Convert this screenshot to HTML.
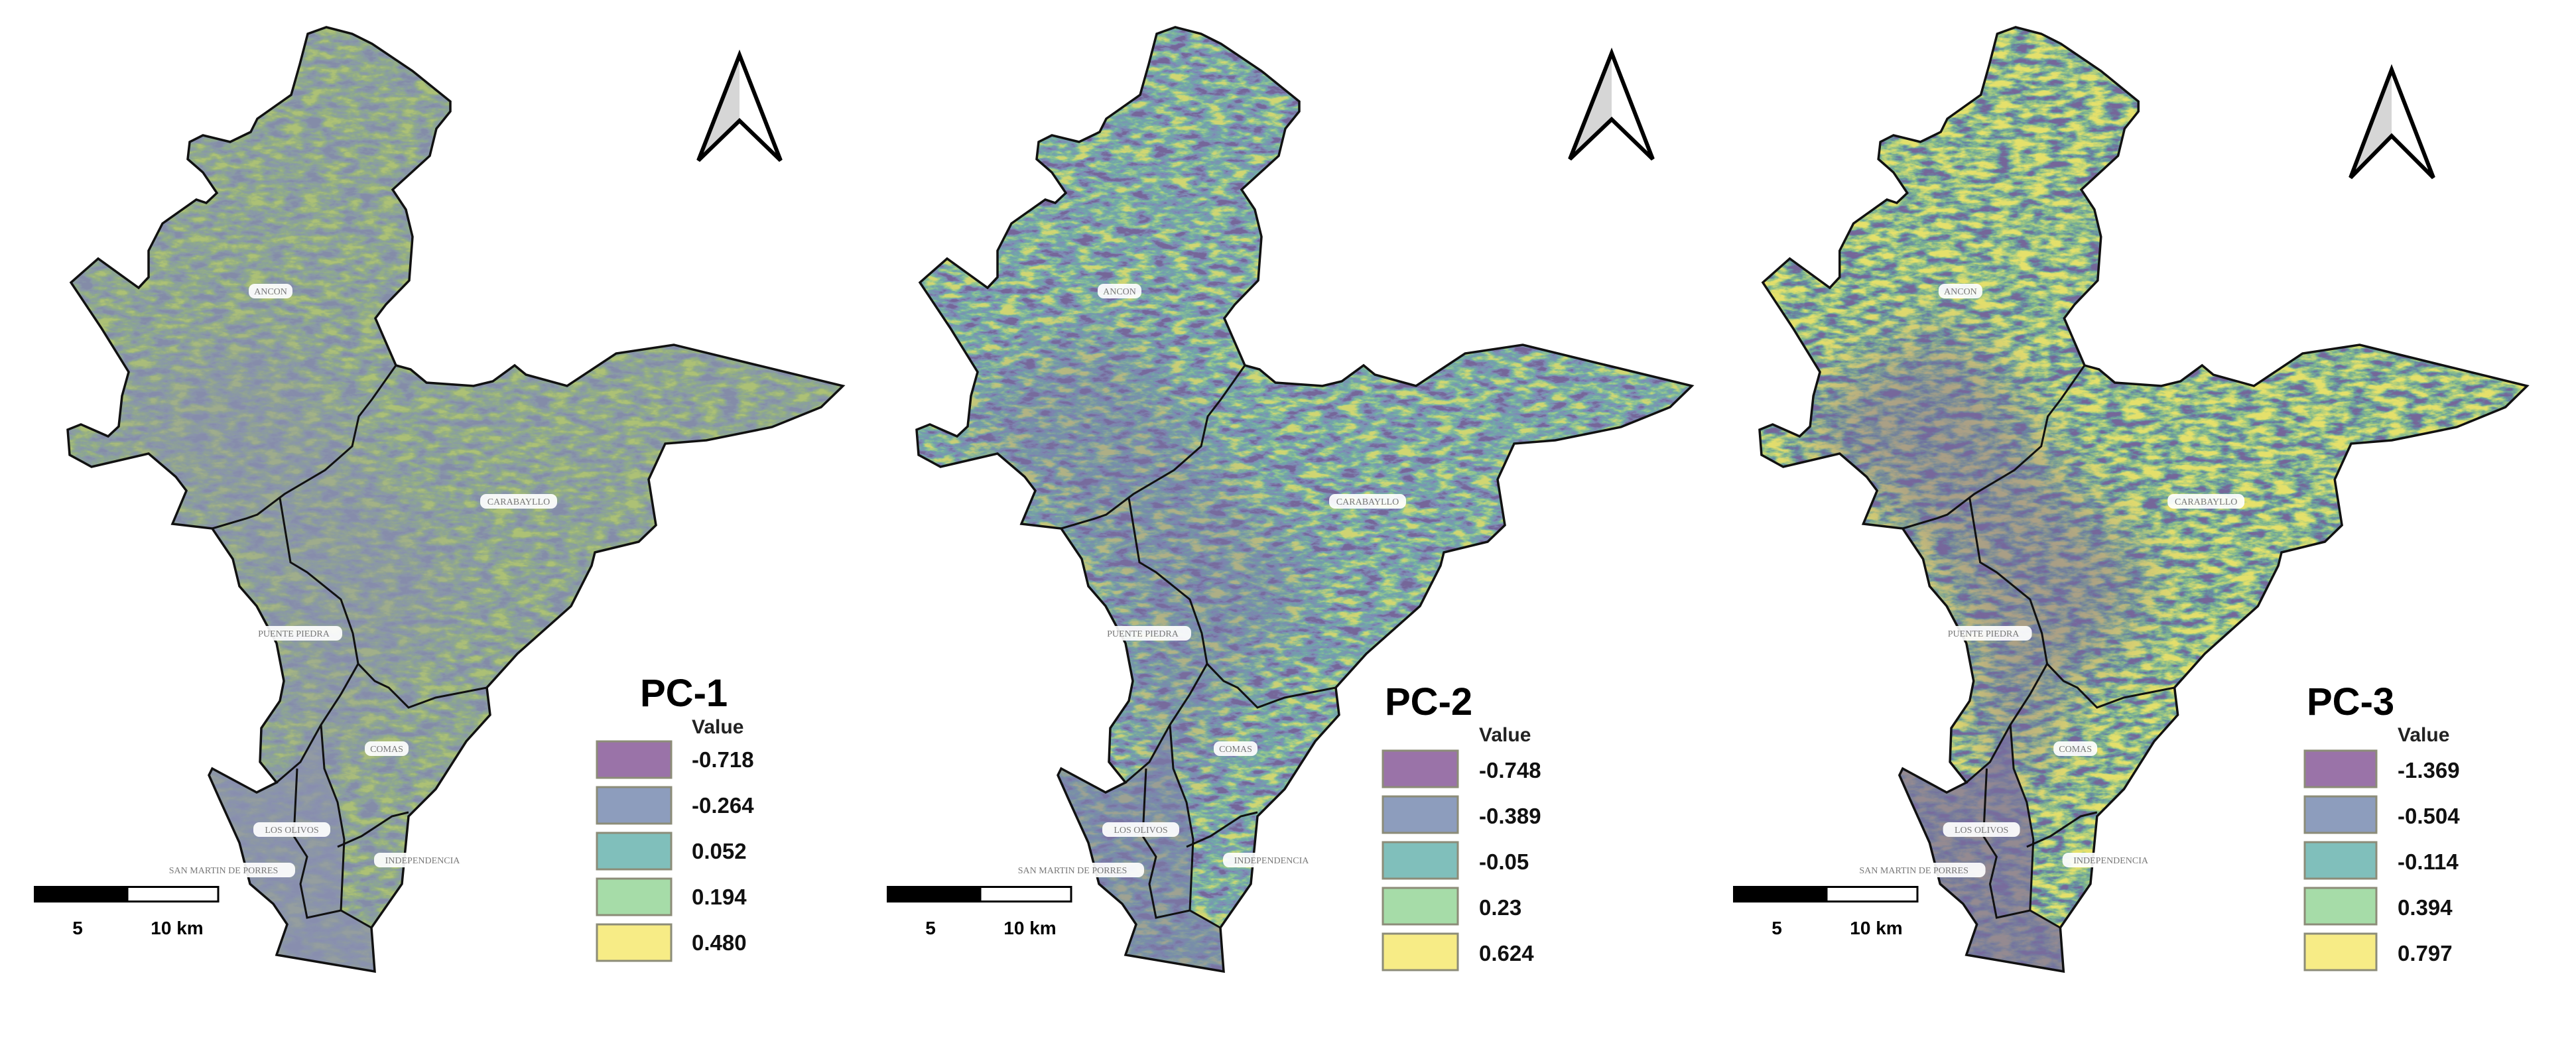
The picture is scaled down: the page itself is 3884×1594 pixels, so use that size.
<!DOCTYPE html>
<html><head><meta charset="utf-8">
<style>
html,body{margin:0;padding:0;background:#fff;}
svg{display:block;}
text{font-family:"Liberation Sans","DejaVu Sans",sans-serif;}
</style></head>
<body>
<svg id="fig" width="3884" height="1594" viewBox="0 0 3884 1594" xmlns="http://www.w3.org/2000/svg">
<defs>
  <clipPath id="mapclip"><polygon id="outlinePts" points="492,41 531,51 561,66 622,107 679,153 679,168 658,194 648,235 592,286 612,316 622,357 617,423 582,459 566,480 597,551 619,557 643,577 714,582 743,575 776,551 793,565 855,582 929,533 1016,520 1139,550 1271,582 1238,614 1164,644 1065,664 1003,669 978,723 989,792 963,817 897,833 892,853 861,914 780,986 734,1037 739,1078 703,1118 657,1190 616,1231 606,1333 560,1399 565,1465 417,1440 433,1394 412,1363 377,1333 361,1271 331,1205 315,1169 320,1159 387,1195 417,1180 392,1149 394,1098 422,1057 428,1027 417,970 387,914 361,884 351,843 320,797 260,790 281,740 265,719 224,684 138,704 105,686 102,648 122,640 163,658 179,643 184,597 194,561 153,495 107,426 148,390 209,434 224,418 224,378 245,337 296,301 311,306 327,291 306,260 283,240 286,214 306,204 347,214 378,199 388,179 439,143 452,97 464,51"/></clipPath>
  <filter id="soft" x="-20%" y="-20%" width="140%" height="140%"><feGaussianBlur stdDeviation="45"/></filter>
  <filter id="tex1" x="0" y="0" width="100%" height="100%" color-interpolation-filters="sRGB">
    <feTurbulence type="fractalNoise" baseFrequency="0.035 0.09" numOctaves="5" seed="3"/>
    <feColorMatrix type="matrix" values="1 0 0 0 0 1 0 0 0 0 1 0 0 0 0 0 0 0 0 1"/>
    <feComponentTransfer><feFuncR type="linear" slope="2.2" intercept="-0.6"/><feFuncG type="linear" slope="2.2" intercept="-0.6"/><feFuncB type="linear" slope="2.2" intercept="-0.6"/><feFuncA type="linear" slope="0" intercept="1"/></feComponentTransfer>
    <feComponentTransfer><feFuncR type="table" tableValues="0.52 0.54 0.55 0.60 0.68"/><feFuncG type="table" tableValues="0.55 0.60 0.65 0.70 0.76"/><feFuncB type="table" tableValues="0.66 0.66 0.58 0.50 0.46"/></feComponentTransfer>
  </filter>
  <filter id="tex2" x="0" y="0" width="100%" height="100%" color-interpolation-filters="sRGB">
    <feTurbulence type="fractalNoise" baseFrequency="0.035 0.09" numOctaves="5" seed="7"/>
    <feColorMatrix type="matrix" values="1 0 0 0 0 1 0 0 0 0 1 0 0 0 0 0 0 0 0 1"/>
    <feComponentTransfer><feFuncR type="linear" slope="2.4" intercept="-0.7"/><feFuncG type="linear" slope="2.4" intercept="-0.7"/><feFuncB type="linear" slope="2.4" intercept="-0.7"/><feFuncA type="linear" slope="0" intercept="1"/></feComponentTransfer>
    <feComponentTransfer><feFuncR type="table" tableValues="0.46 0.50 0.44 0.58 0.82"/><feFuncG type="table" tableValues="0.40 0.55 0.66 0.78 0.84"/><feFuncB type="table" tableValues="0.60 0.72 0.66 0.56 0.45"/></feComponentTransfer>
  </filter>
  <filter id="tex3" x="0" y="0" width="100%" height="100%" color-interpolation-filters="sRGB">
    <feTurbulence type="fractalNoise" baseFrequency="0.035 0.09" numOctaves="5" seed="11"/>
    <feColorMatrix type="matrix" values="1 0 0 0 0 1 0 0 0 0 1 0 0 0 0 0 0 0 0 1"/>
    <feComponentTransfer><feFuncR type="linear" slope="2.4" intercept="-0.65"/><feFuncG type="linear" slope="2.4" intercept="-0.65"/><feFuncB type="linear" slope="2.4" intercept="-0.65"/><feFuncA type="linear" slope="0" intercept="1"/></feComponentTransfer>
    <feComponentTransfer><feFuncR type="table" tableValues="0.46 0.40 0.50 0.72 0.90"/><feFuncG type="table" tableValues="0.40 0.56 0.72 0.82 0.88"/><feFuncB type="table" tableValues="0.60 0.64 0.56 0.48 0.42"/></feComponentTransfer>
  </filter>
</defs>
<g id="panels"></g>
</svg>
<script>
// Legend data per panel
const panelTitles = ["PC-1", "PC-2", "PC-3"];
const legendLabelsPC1 = ["-0.718", "-0.264", "0.052", "0.194", "0.480"];
const legendLabelsPC2 = ["-0.748", "-0.389", "-0.05", "0.23", "0.624"];
const legendLabelsPC3 = ["-1.369", "-0.504", "-0.114", "0.394", "0.797"];
const classColors = ["#9a73a8", "#8d9dbd", "#80bfbb", "#a6dca8", "#f7ec86"];
const districtNames = ["ANCON", "CARABAYLLO", "PUENTE PIEDRA", "COMAS", "LOS OLIVOS", "SAN MARTIN DE PORRES", "INDEPENDENCIA"];

const NS = "http://www.w3.org/2000/svg";
const root = document.getElementById("panels");
function mk(tag, attrs, parent) {
  const e = document.createElementNS(NS, tag);
  for (const k in attrs) e.setAttribute(k, attrs[k]);
  parent.appendChild(e);
  return e;
}
const outline = document.getElementById("outlinePts").getAttribute("points");
const cfg = [
  {ox: 0, sx: 1, filt: "tex1", south: "#8a8fb0", southOp: 0.7, low: "#8a8cb0", lowOp: 0.4, arrow: [1115, 83, 1053, 1177, 242, 182],
   sw: [900, 1012, 1118], title: [965, 1065], lab: [1043, 1106, 1157], labels: legendLabelsPC1, sb: 51},
  {ox: 1280, sx: 1, filt: "tex2", south: "#7d7fa8", southOp: 0.6, low: "#7a76a6", lowOp: 0.4, arrow: [2430, 80, 2367, 2492, 240, 180],
   sw: [2085, 2198, 1132], title: [2088, 1078], lab: [2230, 1118, 1173], labels: legendLabelsPC2, sb: 1337},
  {ox: 2552, sx: 0.99, filt: "tex3", south: "#7a6d9e", southOp: 0.75, low: "#76679c", lowOp: 0.55, arrow: [3606, 105, 3544, 3669, 268, 205],
   sw: [3475, 3583, 1132], title: [3478, 1078], lab: [3615, 1118, 1173], labels: legendLabelsPC3, sb: 2613}
];
const southPts = "315,1169 320,1159 387,1195 417,1180 453,1149 484,1093 489,1159 509,1210 519,1266 514,1373 560,1399 565,1465 417,1440 433,1394 412,1363 377,1333 361,1271 331,1205";
const lowPts = "180,600 260,560 360,500 430,520 500,620 560,720 640,800 700,860 640,980 560,1040 520,1180 470,1180 430,1060 410,930 340,820 260,740 190,690";
const bounds = [
  "597,551 561,602 541,628 531,673 490,709 429,745 388,776 371,782 320,797",
  "422,751 438,848 463,863 514,904 532,955 540,1001 565,1027 586,1037 616,1067 657,1052 734,1037",
  "540,1001 514,1047 484,1093 453,1149 417,1180",
  "448,1159 443,1261 463,1292 453,1333 463,1384 514,1373 560,1399",
  "484,1093 489,1159 509,1210 519,1266 514,1373",
  "509,1277 545,1261 591,1231 616,1225"
];
const labelPos = [[408, 439], [782, 756], [443, 955], [583, 1129], [440, 1251], [337, 1312], [637, 1297]];

cfg.forEach((c, i) => {
  const p = mk("g", {}, root);
  
  
  const g = mk("g", {transform: `translate(${c.ox},0) scale(${c.sx},1)`}, p);
  const tex = mk("rect", {x: 90, y: 30, width: 1200, height: 1450, filter: `url(#${c.filt})`, "clip-path": "url(#mapclip)"}, g);
  
  
  const cg = mk("g", {"clip-path": "url(#mapclip)"}, g);
  const lo = mk("polygon", {points: lowPts, fill: c.low, "fill-opacity": c.lowOp, filter: "url(#soft)"}, cg);
  
  
  const so = mk("polygon", {points: southPts, fill: c.south, "fill-opacity": c.southOp}, g);
  
  
  const ol = mk("polygon", {points: outline, fill: "none", stroke: "#111", "stroke-width": 3.5, "vector-effect": "non-scaling-stroke"}, g);
  
  
  bounds.forEach(b => {
    const l = mk("polyline", {points: b, fill: "none", stroke: "#111", "stroke-width": 3, "vector-effect": "non-scaling-stroke"}, g);
    
    
  });
  districtNames.forEach((n, k) => {
    const x = c.ox + labelPos[k][0] * c.sx, y = labelPos[k][1];
    const w = n.length * 10 + 16;
    const bx = mk("rect", {x: x - w / 2, y: y - 11, width: w, height: 22, rx: 9, fill: "#fff", "fill-opacity": 0.92}, p);
    
    
    const t = mk("text", {x: x, y: y + 5, "text-anchor": "middle", "font-size": 14, fill: "#777", style: "font-family:'Liberation Serif',serif"}, p);
    t.textContent = n;
    
    
  });
  const a = c.arrow;
  const ag = mk("g", {}, p);
  
  
  mk("polygon", {points: `${a[0]},${a[1]} ${a[0]},${a[5]} ${a[2]},${a[4]}`, fill: "#d6d6d6"}, ag);
  mk("polygon", {points: `${a[0]},${a[1]} ${a[3]},${a[4]} ${a[0]},${a[5]} ${a[2]},${a[4]}`, fill: "none", stroke: "#000", "stroke-width": 6}, ag);
  const sb = mk("g", {}, p);
  
  
  mk("rect", {x: c.sb, y: 1336, width: 141, height: 25, fill: "#000"}, sb);
  mk("rect", {x: c.sb + 141, y: 1337.5, width: 137, height: 22, fill: "#fff", stroke: "#000", "stroke-width": 3}, sb);
  const s5 = mk("text", {x: c.sb + 66, y: 1409, "text-anchor": "middle", "font-size": 28, "font-weight": "bold"}, sb);
  s5.textContent = "5";
  const s10 = mk("text", {x: c.sb + 216, y: 1409, "text-anchor": "middle", "font-size": 28, "font-weight": "bold"}, sb);
  s10.textContent = "10 km";
  const lg = mk("g", {}, p);
  
  
  const tt = mk("text", {x: c.title[0], y: c.title[1], "font-size": 58, "font-weight": "bold"}, lg);
  tt.textContent = panelTitles[i];
  
  
  const vt = mk("text", {x: c.lab[0], y: c.lab[1], "font-size": 30, "font-weight": "bold", fill: "#222"}, lg);
  vt.textContent = "Value";
  c.labels.forEach((lab, k) => {
    const y0 = c.sw[2] + k * 69;
    const r = mk("rect", {x: c.sw[0], y: y0, width: c.sw[1] - c.sw[0], height: 55, fill: classColors[k], stroke: "#8c8c78", "stroke-width": 3}, lg);
    
    
    const t = mk("text", {x: c.lab[0], y: c.lab[2] + k * 69, "font-size": 33, "font-weight": "bold", fill: "#111"}, lg);
    t.textContent = lab;
    
    
  });
});
</script>
</body></html>
